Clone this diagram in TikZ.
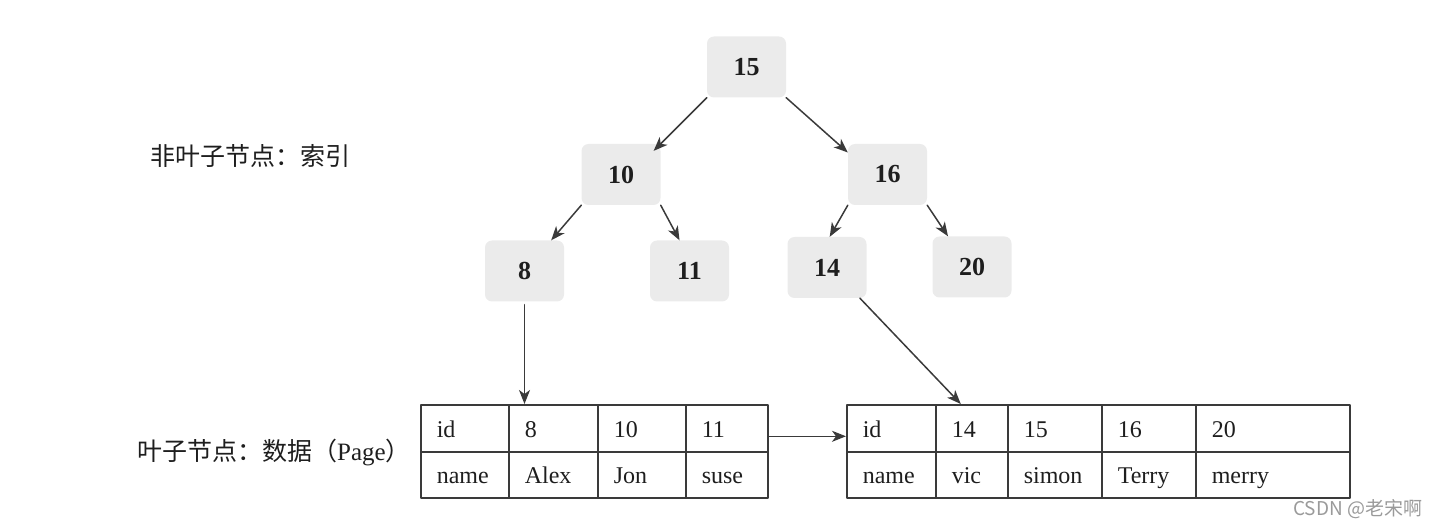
\documentclass[tikz,border=0pt]{standalone}
\usepackage{fontspec}
\setmainfont{Liberation Serif}
\newfontfamily\cjkfont{Noto Sans CJK SC}
\usetikzlibrary{arrows.meta}
\definecolor{keyfill}{HTML}{EBEBEB}
\definecolor{ink}{HTML}{1E1E1E}
\definecolor{rule}{HTML}{3A3A3A}
\definecolor{mark}{HTML}{9A9A9A}
\begin{document}
\begin{tikzpicture}[x=1pt,y=-1pt,line cap=round,line join=round,>={Stealth[length=14pt,width=11pt,inset=4pt]},
  key/.style={rectangle,rounded corners=7pt,fill=keyfill,text=ink,minimum width=79pt,minimum height=61pt,inner sep=0pt,font=\fontsize{26}{30}\selectfont\bfseries},
  cell/.style={draw=rule,line width=1.6pt,anchor=north west,inner xsep=16pt,inner ysep=0pt,align=left,text=ink,font=\fontsize{24}{28}\selectfont,text depth=4pt},
  link/.style={->,draw=rule,line width=1.5pt},
  caption/.style={anchor=west,inner sep=0pt,text=ink,font=\fontsize{25}{29}\selectfont}]
  \useasboundingbox (0,0) rectangle (1442,526);
  \node[key] (n15) at (746.5,67) {15};
  \node[key] (n10) at (621,174.5) {10};
  \node[key] (n16) at (887.5,174.5) {16};
  \node[key] (n8) at (524.5,271) {8};
  \node[key] (n11) at (689.5,271) {11};
  \node[key] (n14) at (827,267.5) {14};
  \node[key] (n20) at (972,267) {20};
  \foreach \x/\w/\tw/\t/\b [count=\i from 0] in {420/88/56/id/name, 508/89/57/8/Alex, 597/88/56/10/Jon, 685/82/50/11/suse}{
    \node[cell,minimum width=\w pt,text width=\tw pt,minimum height=47pt,text height=22pt] (a1-\i) at (\x,404) {\t};
    \node[cell,minimum width=\w pt,text width=\tw pt,minimum height=46pt,text height=21pt] (a2-\i) at (\x,451) {\b};
  }
  \foreach \x/\w/\tw/\t/\b [count=\i from 0] in {846/89/57/id/name, 935/72/40/14/vic, 1007/94/62/15/simon, 1101/94/62/16/Terry, 1195/154/122/20/merry}{
    \node[cell,minimum width=\w pt,text width=\tw pt,minimum height=47pt,text height=22pt] (b1-\i) at (\x,404) {\t};
    \node[cell,minimum width=\w pt,text width=\tw pt,minimum height=46pt,text height=21pt] (b2-\i) at (\x,451) {\b};
  }
  \draw[link,shorten >=-10pt] (n15.south west) -- (n10.north east);
  \draw[link] (n15.south east) -- (n16.151);
  \draw[link] (n10.south west) -- (n8.49);
  \draw[link] (n10.south east) -- (n11.108);
  \draw[link] (n16.south west) -- (n14.85);
  \draw[link] (n16.south east) -- (n20.128);
  \draw[link] ([yshift=-3pt]n8.south) -- (n8.south |- a1-1.north);
  \draw[link] (n14.-43) -- ([xshift=-11pt]b1-1.north);
  \draw[link] ([yshift=-8pt]a1-3.east) -- ([yshift=-8pt]b1-0.west);
  \node[caption] (inner) at (150,156) {\cjkfont 非叶子节点：索引};
  \node[caption] (leaf) at (137,452) {{\cjkfont 叶子节点：数据（}Page{\cjkfont ）}};
  \node[anchor=west,inner sep=0pt,text=mark,font=\fontsize{19}{22}\selectfont\cjkfont] (sign) at (1293,509) {CSDN @老宋啊};
\end{tikzpicture}
\end{document}
